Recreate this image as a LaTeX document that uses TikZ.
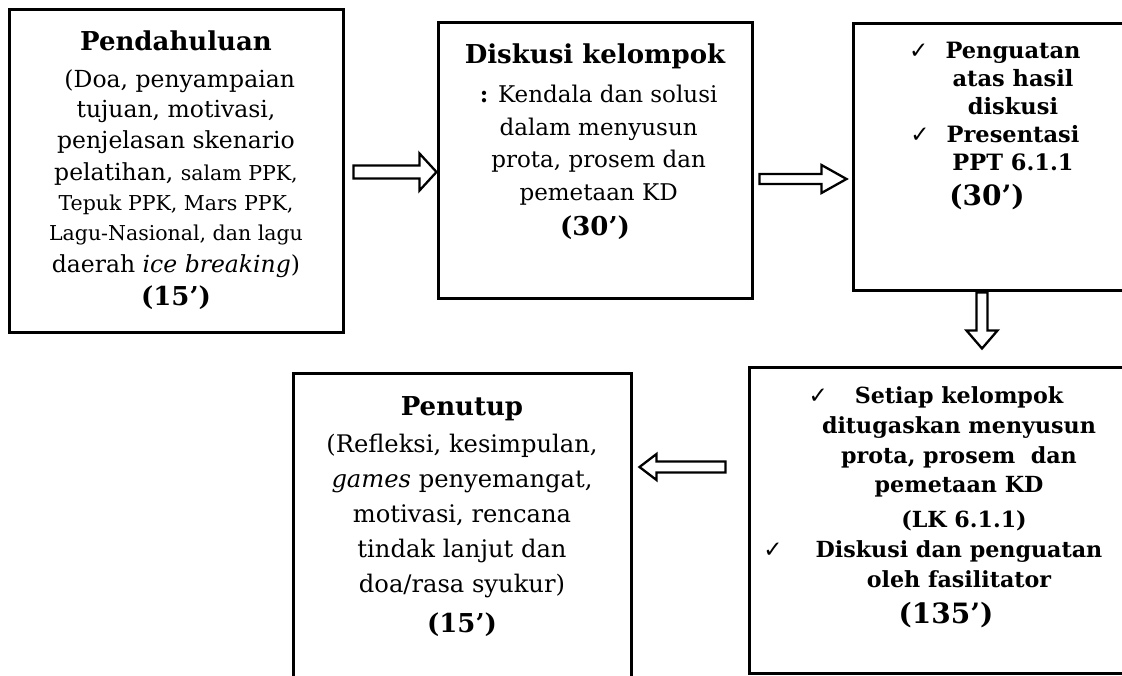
\documentclass[tikz,border=0pt]{standalone}
\usepackage{fontspec}
\setmainfont{DejaVu Serif}
\newfontfamily\symf{DejaVu Sans}
\usetikzlibrary{calc}
\newcommand\fsz[1]{\fontsize{#1}{#1}\selectfont}
\newcommand\Tt{\fsz{26}\bfseries}
\newcommand\Bd{\fsz{23.5}}
\newcommand\Sm{\fsz{20.5}}
\newcommand\ck[2]{\llap{{\symf\fsz{23}\mdseries ✓}\hspace{#1pt}}#2}
\newcommand\blockarrow[5]{%
  \draw[blk] let \p1=(#1), \p2=(#2),
    \n1={atan2(\y2-\y1,\x2-\x1)}, \n2={veclen(\x2-\x1,\y2-\y1)} in
    [shift={(\p1)}, rotate=\n1]
    (0pt,-#3pt) -- (\n2-#4pt,-#3pt) -- (\n2-#4pt,-#5pt) -- (\n2,0pt)
    -- (\n2-#4pt,#5pt) -- (\n2-#4pt,#3pt) -- (0pt,#3pt) -- cycle;}
\tikzset{
  box/.style={draw, line width=3pt, rectangle, inner sep=0pt},
  ln/.style={anchor=base, inner sep=0pt},
  blk/.style={draw, line width=2.3pt, fill=white, line join=miter},
}
\begin{document}
\begin{tikzpicture}[x=1pt,y=-1pt]
\clip (0,0) rectangle (1122,675);
\fill[white] (0,0) rectangle (1122,675);
% boxes
\node[box, minimum width=334pt, minimum height=323pt] (b1) at (176,170.5) {};
\node[box, minimum width=314pt, minimum height=276pt] (b2) at (595,160) {};
\node[box, minimum width=277pt, minimum height=267pt] (b3) at (991.5,156.5) {};
\node[box, minimum width=338pt, minimum height=327pt] (b4) at (462,536.5) {};
\node[box, minimum width=381pt, minimum height=306pt] (b5) at (939.5,520) {};
% box 1 text
\foreach \y/\t [count=\i] in {50/{\Tt Pendahuluan}, 87/{\Bd\ (Doa, penyampaian},
  117/{\Bd tujuan, motivasi,}, 148/{\Bd penjelasan skenario},
  180/{\Bd pelatihan, {\Sm salam PPK,}}, 210/{\Sm Tepuk PPK, Mars PPK,},
  240/{\Sm Lagu-Nasional, dan lagu}, 272/{\Bd daerah \textit{ice breaking})},
  305/{\Tt (15’)}}
  \node[ln] (pa\i) at (176,\y) {\t};
% box 2 text
\foreach \y/\t [count=\i] in {63/{\Tt Diskusi kelompok},
  102/{\fsz{23} {\bfseries :} Kendala dan solusi}, 135/{\fsz{23} dalam menyusun},
  167/{\fsz{23} prota, prosem dan}, 200/{\fsz{23} pemetaan KD}, 235/{\Tt (30’)}}
  \node[ln] (pb\i) at (595,\y) {\t};
% box 3 text
\foreach \y/\t [count=\i] in {58/{\ck{17}{Penguatan}}, 86/{atas hasil},
  114/{diskusi}, 142/{\ck{17}{Presentasi}}, 170/{PPT 6.1.1},
  205/{\fsz{28}(30’)\rule{52pt}{0pt}}}
  \node[ln, font=\fsz{22.5}\bfseries] (pc\i) at (1013,\y) {\t};
% box 4 text
\foreach \y/\t [count=\i] in {415/{\Tt Penutup}, 452/{(Refleksi, kesimpulan,},
  487/{\textit{games} penyemangat,}, 522/{motivasi, rencana},
  557/{tindak lanjut dan}, 592/{doa/rasa syukur)}, 632/{\Tt (15’)}}
  \node[ln, font=\fsz{24.2}] (pd\i) at (462,\y) {\t};
% box 5 text
\foreach \y/\t [count=\i] in {403/{\ck{27}{Setiap kelompok}},
  433/{ditugaskan menyusun}, 463/{prota, prosem\ \ dan}, 492/{pemetaan KD},
  527/{\rule{10pt}{0pt}(LK 6.1.1)}, 557/{\ck{33}{Diskusi dan penguatan}},
  587/{oleh fasilitator}, 623/{\fsz{28}(135’)\rule{26pt}{0pt}}}
  \node[ln, font=\fsz{22.2}\bfseries] (pe\i) at (959,\y) {\t};
% arrows
\coordinate (a1s) at ($(b1.east)+(9,1.5)$);
\coordinate (a1e) at (b2.west |- a1s);
\coordinate (a2s) at ($(b2.east)+(6,19)$);
\coordinate (a2e) at ($(b3.west |- a2s)+(-5,0)$);
\coordinate (a3s) at ($(b3.south)+(-9.5,1)$);
\coordinate (a3e) at ($(b5.north -| a3s)+(0,-17)$);
\coordinate (a4s) at ($(b5.west)+(-22,-53)$);
\coordinate (a4e) at ($(b4.east |- a4s)+(7,0)$);
\blockarrow{a1s}{a1e}{6.5}{17}{18.5}
\blockarrow{a2s}{a2e}{5}{25}{14}
\blockarrow{a3s}{a3e}{5.5}{18}{15.5}
\blockarrow{a4s}{a4e}{5.5}{17}{13}
\end{tikzpicture}
\end{document}
